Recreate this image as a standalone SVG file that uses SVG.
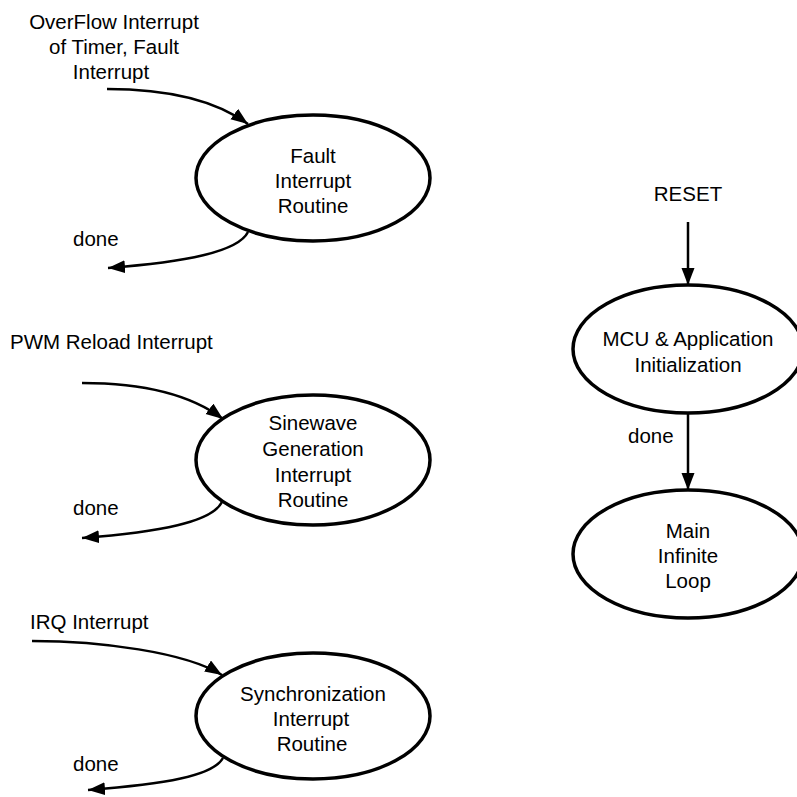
<svg xmlns="http://www.w3.org/2000/svg" width="797" height="797" viewBox="0 0 797 797">
<defs>
<marker id="ah" markerUnits="userSpaceOnUse" markerWidth="18" markerHeight="14" refX="17" refY="6.5" orient="auto">
<path d="M0,0 L17,6.5 L0,13 z" fill="#000"/>
</marker>
<style>
.n{fill:#fff;stroke:#000;stroke-width:3.5}
.t{font-family:"Liberation Sans",Arial,sans-serif;font-size:20.5px;fill:#000}
.c{text-anchor:middle}
.e{fill:none;stroke:#000;stroke-width:2.5;marker-end:url(#ah)}
</style>
</defs>
<rect width="797" height="797" fill="#fff"/>
<g id="connectors">
<path class="e" d="M107,89 C165,89 215,100 248,124"/>
<path class="e" d="M248,232 C238,252 185,262 108,268"/>
<path class="e" d="M82,383 C140,383 190,394 223,419"/>
<path class="e" d="M222,502 C212,522 160,532 82,538"/>
<path class="e" d="M32,641 C100,641 185,652 222,675"/>
<path class="e" d="M223,758 C213,776 165,784 88,790"/>
<path class="e" d="M688,222 L688,285"/>
<path class="e" d="M688,413 L688,490"/>
</g>
<g id="labels" class="t">
<text class="c" x="114" y="29">OverFlow Interrupt</text>
<text class="c" x="114" y="54">of Timer, Fault</text>
<text class="c" x="111" y="79">Interrupt</text>
<text x="73" y="246">done</text>
<text x="10" y="349">PWM Reload Interrupt</text>
<text x="73" y="515">done</text>
<text x="30" y="629">IRQ Interrupt</text>
<text x="73" y="771">done</text>
<text class="c" x="688" y="201">RESET</text>
<text x="628" y="443">done</text>
</g>
<g id="fault">
<ellipse class="n" cx="313" cy="178" rx="117" ry="63"/>
<text class="t c" x="313" y="163">Fault</text>
<text class="t c" x="313" y="188">Interrupt</text>
<text class="t c" x="313" y="213">Routine</text>
</g>
<g id="sinewave">
<ellipse class="n" cx="313" cy="460" rx="117" ry="65"/>
<text class="t c" x="313" y="430">Sinewave</text>
<text class="t c" x="313" y="456">Generation</text>
<text class="t c" x="313" y="482">Interrupt</text>
<text class="t c" x="313" y="507">Routine</text>
</g>
<g id="sync">
<ellipse class="n" cx="313" cy="716" rx="117" ry="63"/>
<text class="t c" x="313" y="701">Synchronization</text>
<text class="t c" x="311" y="726">Interrupt</text>
<text class="t c" x="312" y="751">Routine</text>
</g>
<g id="mcu">
<ellipse class="n" cx="688" cy="349" rx="115" ry="64"/>
<text class="t c" x="688" y="346">MCU &amp; Application</text>
<text class="t c" x="688" y="372">Initialization</text>
</g>
<g id="main">
<ellipse class="n" cx="688" cy="554" rx="115" ry="64"/>
<text class="t c" x="688" y="538">Main</text>
<text class="t c" x="688" y="563">Infinite</text>
<text class="t c" x="688" y="588">Loop</text>
</g>
</svg>
